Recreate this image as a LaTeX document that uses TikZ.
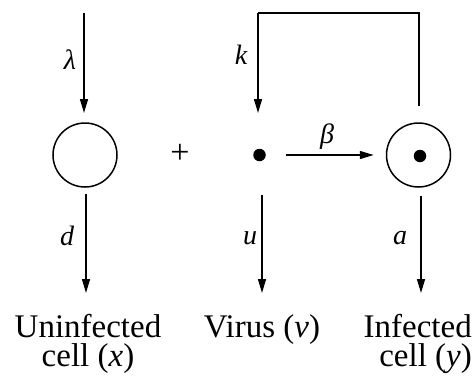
\RequirePackage{fix-cm}
\documentclass[tikz,border=0pt]{standalone}
\usepackage{fontspec}
\setmainfont{Liberation Serif}
\usetikzlibrary{arrows.meta}
\begin{document}
\begin{tikzpicture}[x=1pt,y=-1pt,
  arr/.style={line width=1.5pt,-{Triangle[length=14pt,width=8pt]}},
  ln/.style={line width=1.5pt},
  cell/.style={circle,draw,line width=1.5pt,minimum size=64pt,inner sep=0pt},
  dotv/.style={circle,fill,minimum size=12.5pt,inner sep=0pt},
  lab/.style={font=\fontsize{28}{30}\selectfont\itshape,inner sep=0pt},
  txt/.style={font=\fontsize{33}{29}\selectfont,inner sep=0pt}]
\useasboundingbox (0,0) rectangle (474,378);
\node[cell] (x) at (85,155) {};
\node[dotv] (v) at (259.5,155) {};
\node[cell] (y) at (418.5,155) {};
\node[dotv] (yd) at (420,156) {};
\node[font=\fontsize{34}{34}\selectfont,inner sep=0pt] (plus) at (180,154) {+};
\coordinate (lamtop) at (84,13);
\coordinate (lamend) at (84,113);
\coordinate (fbtop) at (419,13);
\coordinate (fbleft) at (258,13);
\coordinate (fbend) at (258,113);
\coordinate (dend) at (86,293);
\coordinate (uend) at (262,293);
\coordinate (aend) at (421,293);
\node[txt,align=center,anchor=base] (tx) at (88,366) {Uninfected\\cell ({\itshape x})};
\node[txt,anchor=base] (tv) at (262,337) {Virus ({\itshape v})};
\node[txt,align=right,anchor=base east] (ty) at (472,366) {Infected\\cell ({\itshape y})};
\draw[arr] (lamtop) -- (lamend);
\node[lab] (lamlab) at (70,60) {λ};
\draw[ln,shorten <=16pt] (y.north -| fbtop) -- (fbtop) -- (fbleft);
\draw[arr] (fbleft) -- (fbend);
\node[lab] (klab) at (241,55) {k};
\draw[arr,shorten <=20pt,shorten >=12pt] (v.east) -- (y.west);
\node[lab] (blab) at (327,137) {β};
\draw[arr,shorten <=6pt] (x.south -| dend) -- (dend);
\node[lab] (dlab) at (67,236) {d};
\draw[arr,shorten <=34pt] (v.south -| uend) -- (uend);
\node[lab] (ulab) at (250,238) {u};
\draw[arr,shorten <=8pt] (y.south -| aend) -- (aend);
\node[lab] (alab) at (400,238) {a};
\end{tikzpicture}
\end{document}
